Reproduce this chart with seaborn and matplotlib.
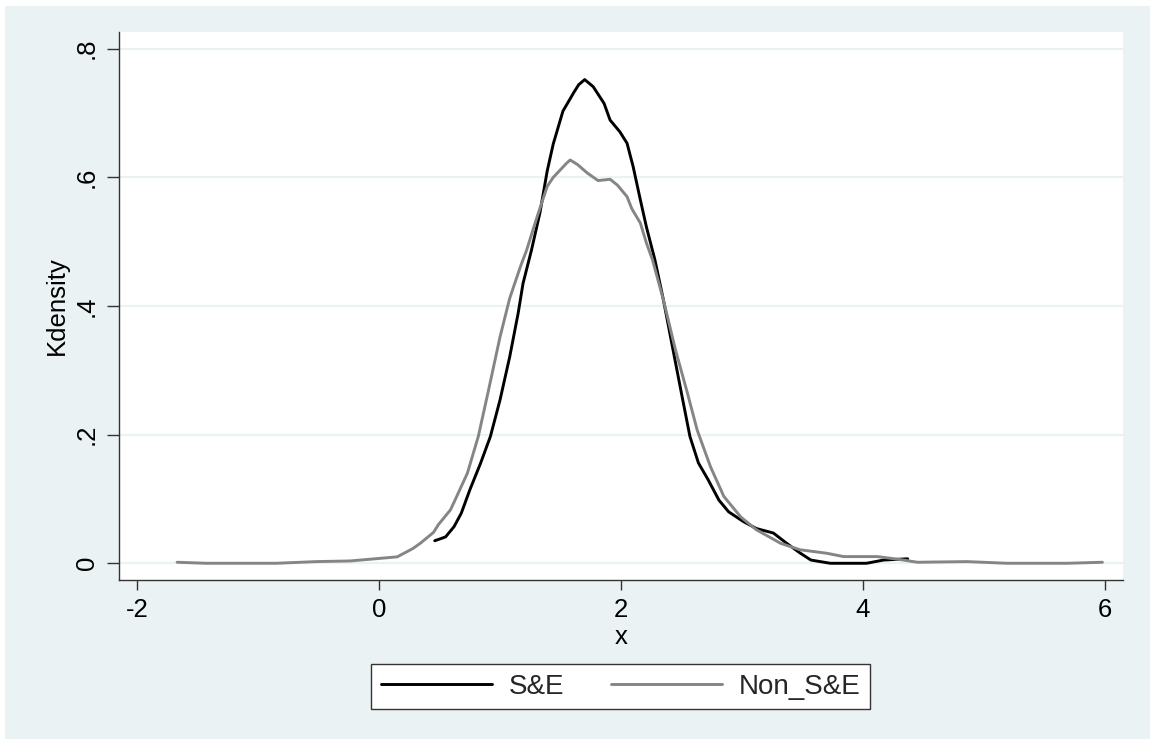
import numpy as np
import pandas as pd
import matplotlib
matplotlib.use("Agg")
import matplotlib.pyplot as plt
from matplotlib.patches import Rectangle
import seaborn as sns

# ---- data ----
se_x = [0.46, 0.55, 0.62, 0.68, 0.75, 0.84, 0.92, 1.00, 1.08, 1.15, 1.19, 1.26,
        1.33, 1.39, 1.44, 1.52, 1.61, 1.65, 1.70, 1.77, 1.86, 1.91, 1.99,
        2.05, 2.10, 2.16, 2.21, 2.28, 2.35, 2.43, 2.50, 2.57, 2.64, 2.72, 2.81,
        2.89, 3.01, 3.12, 3.26, 3.37, 3.48, 3.57, 3.73, 3.90, 4.03, 4.17, 4.37]
se_y = [0.035, 0.041, 0.057, 0.078, 0.114, 0.156, 0.197, 0.254, 0.321, 0.389, 0.435, 0.487,
        0.545, 0.610, 0.652, 0.703, 0.732, 0.744, 0.752, 0.741, 0.715, 0.689, 0.671,
        0.653, 0.617, 0.565, 0.523, 0.472, 0.410, 0.332, 0.264, 0.197, 0.156, 0.130, 0.098,
        0.080, 0.065, 0.054, 0.047, 0.031, 0.016, 0.005, 0.000, 0.000, 0.000, 0.005, 0.007]

non_x = [-1.67, -1.43, -1.10, -0.85, -0.52, -0.24, -0.02, 0.15, 0.28, 0.34, 0.45, 0.49,
         0.59, 0.62, 0.73, 0.82, 0.90, 1.00, 1.08, 1.17, 1.22, 1.30, 1.39, 1.44, 1.50,
         1.55, 1.58, 1.64, 1.72, 1.81, 1.91, 1.97, 2.05, 2.09, 2.16, 2.21, 2.26, 2.35,
         2.45, 2.55, 2.63, 2.74, 2.85, 2.99, 3.12, 3.32, 3.48, 3.70, 3.84, 4.12, 4.30,
         4.45, 4.86, 5.19, 5.69, 5.98]
non_y = [0.0016, 0.0, 0.0, 0.0, 0.0026, 0.0036, 0.0072, 0.010, 0.023, 0.031, 0.048, 0.060,
         0.083, 0.095, 0.140, 0.197, 0.265, 0.352, 0.412, 0.462, 0.487, 0.535, 0.586, 0.600, 0.612,
         0.622, 0.627, 0.620, 0.607, 0.595, 0.597, 0.588, 0.570, 0.551, 0.529, 0.498, 0.472, 0.410,
         0.332, 0.264, 0.207, 0.150, 0.104, 0.072, 0.052, 0.031, 0.021, 0.0156, 0.0104, 0.0104, 0.006,
         0.0016, 0.0026, 0.0, 0.0, 0.0016]

series_names = ["S&E", "Non_S&E"]
x_ticks = [-2, 0, 2, 4, 6]
x_tick_labels = ["-2", "0", "2", "4", "6"]
y_ticks = [0, 0.2, 0.4, 0.6, 0.8]
y_tick_labels = ["0", ".2", ".4", ".6", ".8"]

df = pd.concat([
    pd.DataFrame({"x": se_x, "Kdensity": se_y, "group": series_names[0]}),
    pd.DataFrame({"x": non_x, "Kdensity": non_y, "group": series_names[1]}),
], ignore_index=True)

# ---- styling ----
sns.set_theme(style="white")
plt.rcParams["font.family"] = ["Liberation Sans", "DejaVu Sans"]

BG = "#EAF2F3"
fig = plt.figure(figsize=(11.5, 7.39), dpi=100)
fig.patch.set_facecolor("white")
fig.add_artist(Rectangle((5 / 1150, 0), 1 - 5 / 1150, 1 - 6 / 739,
                         transform=fig.transFigure, facecolor=BG,
                         edgecolor="none", zorder=-10))

ax = fig.add_axes([119 / 1150, 1 - 580 / 739, (1123 - 119) / 1150, (580 - 32) / 739])
ax.set_facecolor("white")

sns.lineplot(data=df, x="x", y="Kdensity", hue="group", hue_order=series_names,
             palette={"S&E": "#000000", "Non_S&E": "#858585"},
             estimator=None, sort=False, linewidth=2.1, legend=False, ax=ax)

ax.set_xlim(-2.15, 6.15)
ax.set_ylim(-0.026, 0.826)
ax.set_xticks(x_ticks)
ax.set_xticklabels(x_tick_labels)
ax.set_yticks(y_ticks)
ax.set_yticklabels(y_tick_labels, rotation=90, va="center")

ax.grid(axis="y", color=BG, linewidth=1.6)
ax.grid(axis="x", visible=False)
ax.set_axisbelow(True)

for s in ["top", "right"]:
    ax.spines[s].set_visible(False)
for s in ["left", "bottom"]:
    ax.spines[s].set_color("#333333")
    ax.spines[s].set_linewidth(1.0)

ax.tick_params(axis="x", direction="out", length=7, width=1, color="#333333",
               labelsize=18.5, pad=6, bottom=True)
ax.tick_params(axis="y", direction="out", length=8.5, width=1, color="#333333",
               labelsize=18.5, pad=6, left=True)
for t in ax.get_xticklabels() + ax.get_yticklabels():
    t.set_color("black")

ax.set_xlabel("x", fontsize=18.5, color="black", labelpad=2)
ax.set_ylabel("Kdensity", fontsize=18.5, color="black", labelpad=4)

lines = ax.get_lines()[:2]
leg = fig.legend(lines, series_names, loc="center", bbox_to_anchor=(0.5397, 0.071),
                 ncol=2, fontsize=20, frameon=True, fancybox=False,
                 edgecolor="#333333", facecolor="white", framealpha=1,
                 handlelength=4.0, handletextpad=0.6, columnspacing=1.7,
                 borderpad=0.35, borderaxespad=0)
leg.get_frame().set_linewidth(1.0)

fig.savefig("out.png", dpi=100, facecolor=fig.get_facecolor())
